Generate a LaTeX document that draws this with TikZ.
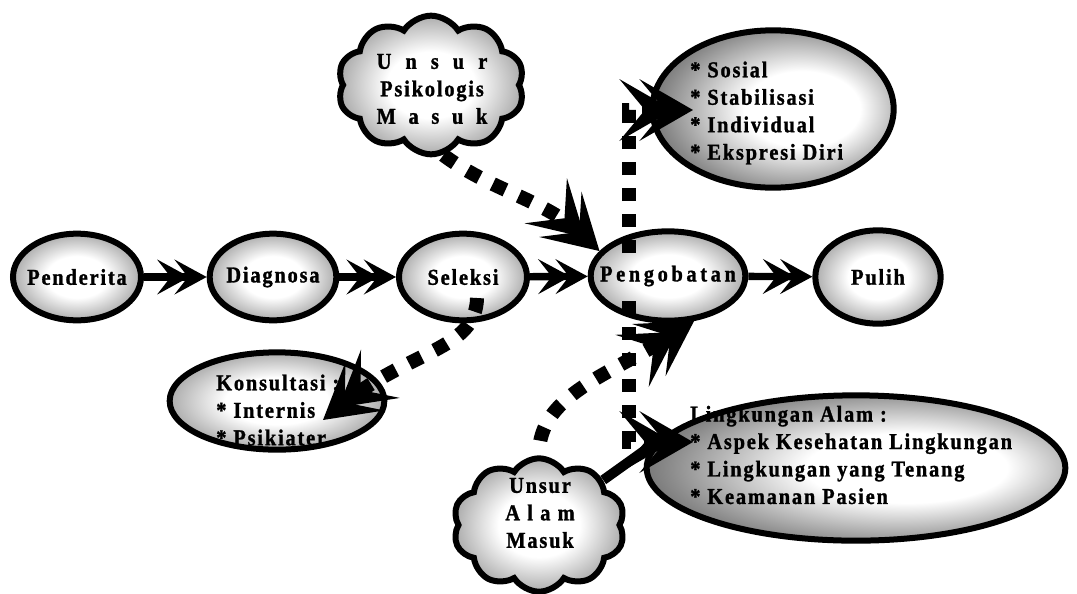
\documentclass[tikz,border=0pt]{standalone}
\usepackage{fontspec}
\setmainfont{Liberation Serif}
\newfontfamily\lblfont[FakeStretch=0.9,LetterSpace=8,FakeBold=1.2]{Liberation Serif}
\usetikzlibrary{arrows.meta,shapes.symbols,shapes.geometric,calc}

% white core fading to a dark rim
\pgfdeclareradialshading{glow}{\pgfpoint{0bp}{0bp}}{color(0bp)=(white); color(12bp)=(white); color(26bp)=(black!35); color(36bp)=(black!60); color(50bp)=(black!75)}
% same, with the light core pushed to the right
\pgfdeclareradialshading{glowR}{\pgfpoint{8bp}{0bp}}{color(0bp)=(white); color(12bp)=(white); color(26bp)=(black!45); color(36bp)=(black!75); color(50bp)=(black!92)}

\tikzset{
  lbl/.style={font=\lblfont\bfseries\fontsize{17}{20.6}\selectfont, text=black},
  oval/.style={ellipse, draw=black, line width=4.5pt, shade, shading=glow, inner sep=0pt, lbl},
  puff/.style={cloud, cloud puffs=10, cloud puff arc=115, cloud ignores aspect, draw=black,
               line width=4.5pt, shade, shading=glow, inner sep=0pt},
  txt/.style={lbl, inner sep=0pt},
  flow/.style={line width=5.5pt,
    -{Stealth[length=24pt,width=26pt,inset=10pt,sep=-11pt]Stealth[length=24pt,width=26pt,inset=10pt]}},
  dots/.style={line width=10.5pt, dash pattern=on 10.5pt off 11pt,
    -{Stealth[length=40pt,width=46pt,inset=19pt,sep=-25pt]Stealth[length=40pt,width=46pt,inset=19pt]}},
  vdash/.style={dots, line width=11pt, dash pattern=on 9.75pt off 9.75pt},
  tail/.style={line width=7.5pt},
}

\begin{document}
\begin{tikzpicture}[x=0.75pt,y=-0.75pt]
\useasboundingbox (0,0) rectangle (1077,593);

% main chain
\node[oval, minimum width=96pt, minimum height=65pt] (pend) at (77,277) {\makebox[0pt]{Penderita}};
\node[oval, minimum width=95pt, minimum height=65pt] (diag) at (273,277) {\makebox[0pt]{Diagnosa}};
\node[oval, minimum width=96pt, minimum height=65pt] (sel) at (463,277) {\makebox[0pt]{Seleksi}};
\node[oval, minimum width=116pt, minimum height=67pt] (peng) at (668,276) {\makebox[0pt]{\addfontfeature{LetterSpace=16}Pengobatan}};
\node[oval, minimum width=94pt, minimum height=70pt] (pul) at (878,277) {\makebox[0pt]{Pulih}};

% side ovals
\node[oval, shading=glowR, minimum width=181pt, minimum height=118pt] (sos) at (773,109) {};
\node[oval, minimum width=161pt, minimum height=73pt] (kons) at (277,401) {};
\node[oval, shading=glowR, minimum width=314pt, minimum height=109pt] (ling) at (856,468) {};

% clouds
\node[puff, minimum width=140pt, minimum height=104pt] (psi) at (431,85) {};
\node[puff, minimum width=129pt, minimum height=100pt] (alam) at (539,525) {};

% texts of the side shapes
\node[txt, align=left, anchor=west] (sosT) at (690,113)
  {* Sosial\\* Stabilisasi\\* Individual\\* Ekspresi Diri};
\node[txt, align=left, anchor=west] (konsT) at (216,410)
  {Konsultasi :\\* Internis\\* Psikiater};
\node[txt, align=left, anchor=west] (lingT) at (690,455)
  {Lingkungan Alam :\\* Aspek Kesehatan Lingkungan\\* Lingkungan yang Tenang\\* Keamanan Pasien};
\node[txt, align=center] (psiT) at (432,89)
  {\makebox[83pt][s]{U n s u r}\\Psikologis\\\makebox[83pt][s]{M a s u k}};
\node[txt, align=center] (alamT) at (540,513)
  {Unsur\\\makebox[52pt][s]{A l a m}\\Masuk};

% solid flow
\draw[flow] (pend) -- (diag);
\draw[flow] (diag) -- (sel);
\draw[flow] (sel) -- (peng);
\draw[flow] (peng) -- (pul);

% helper points
\coordinate (selIn) at ($(sel.center)+(14,21)$);
\coordinate (konsIn) at ($(kons.center)+(46,19)$);
\coordinate (pgU) at ($(peng.center)+(-39,-23)$);
\coordinate (pgD) at ($(peng.center)+(-39,25)$);
\coordinate (sosIn) at ($(sos.center)+(-80,1)$);
\coordinate (lingIn) at ($(ling.center)+(-163,-26)$);
\coordinate (lingTail) at ($(ling.center)+(-194,-30)$);

% dotted influences
\draw[dots] (psi.-80) .. controls (490,190) and (545,200) .. (peng.160);
\draw[dots] (selIn) .. controls (476,350) and (410,350) .. (konsIn);
\draw[dots, dash phase=10.5pt] (alam.north) .. controls (538,395) and (610,375) .. (peng.-60);
\draw[vdash] (pgU) |- (sosIn);
\draw[vdash] (pgD) |- (lingIn);
\draw[tail] (alam.35) -- (lingTail);
\end{tikzpicture}
\end{document}
